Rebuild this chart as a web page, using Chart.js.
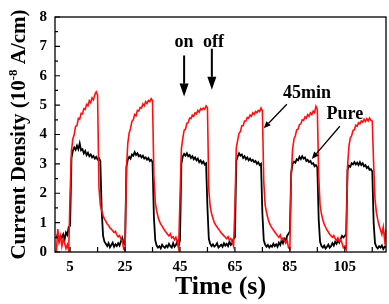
<!DOCTYPE html>
<html>
<head>
<meta charset="utf-8">
<script src="https://cdn.jsdelivr.net/npm/chart.js@4/dist/chart.umd.min.js"></script>
<style>
  html, body { margin: 0; padding: 0; background: #fff; }
  #wrap { width: 389px; height: 304px; }
</style>
</head>
<body>
<div id="wrap"><canvas id="photo-chart"></canvas></div>
<script>
// sampled every 0.5 s, starting at t = 0
var startTime = 0;
var sampleStep = 0.5;

// Pure (black)
var pureValues = [
  0.45,0.62,0.38,0.55,0.48,0.60,0.42,0.66,0.58,0.85,
  0.90,3.20,3.45,3.56,3.48,3.62,3.50,3.70,3.46,3.50,
  3.36,3.44,3.30,3.38,3.26,3.32,3.22,3.27,3.18,3.24,
  3.15,3.20,3.10,1.40,0.55,0.35,0.28,0.20,0.30,0.16,
  0.24,0.32,0.18,0.26,0.20,0.30,0.22,0.36,0.48,0.30,
  0.25,2.90,3.15,3.24,3.18,3.32,3.28,3.40,3.30,3.36,
  3.26,3.30,3.22,3.28,3.18,3.22,3.14,3.20,3.10,3.14,
  3.06,1.20,0.40,0.22,0.15,0.20,0.12,0.25,0.18,0.14,
  0.22,0.16,0.28,0.20,0.15,0.30,0.18,0.24,0.35,0.20,
  0.40,3.00,3.25,3.34,3.28,3.36,3.26,3.30,3.20,3.26,
  3.16,3.22,3.12,3.18,3.06,3.12,3.02,3.08,2.98,3.02,
  1.50,0.45,0.28,0.20,0.26,0.18,0.22,0.30,0.15,0.20,
  0.25,0.18,0.30,0.22,0.28,0.20,0.35,0.24,0.30,0.45,
  0.50,3.10,3.25,3.36,3.28,3.32,3.20,3.26,3.16,3.22,
  3.12,3.18,3.10,3.14,3.06,3.10,3.00,3.06,2.96,3.00,
  1.30,0.40,0.25,0.18,0.24,0.15,0.22,0.18,0.28,0.20,
  0.26,0.18,0.32,0.24,0.40,0.30,0.45,0.38,0.55,0.62,
  0.70,2.70,3.00,3.08,3.04,3.16,3.12,3.24,3.16,3.26,
  3.18,3.22,3.10,3.14,3.06,3.10,3.00,3.02,2.92,2.96,
  2.88,1.10,0.35,0.20,0.15,0.22,0.12,0.18,0.25,0.15,
  0.20,0.30,0.22,0.35,0.28,0.40,0.32,0.45,0.55,0.50,
  0.55,0.60,2.80,2.94,2.90,3.02,2.98,3.06,2.98,3.04,
  2.96,3.06,2.96,3.02,2.92,2.96,2.86,2.90,2.80,2.82,
  2.74,1.00,0.30,0.18,0.12,0.20,0.15,0.22,0.10,0.18,
  0.15
];

// 45min (red)
var min45Values = [
  0.00,0.78,0.35,0.55,0.20,0.45,0.30,0.12,0.25,0.05,
  2.00,3.45,3.85,4.00,4.28,4.30,4.55,4.52,4.72,4.70,
  4.88,4.85,5.02,4.98,5.15,5.08,5.25,5.18,5.36,5.45,
  5.35,2.20,1.60,1.40,1.25,1.12,1.05,0.95,0.90,0.82,
  0.78,0.72,0.66,0.70,0.58,0.52,0.56,0.45,0.38,0.10,
  0.05,2.80,3.70,4.05,4.20,4.45,4.50,4.68,4.64,4.82,
  4.80,4.92,4.90,5.04,4.98,5.12,5.06,5.16,5.12,5.22,
  5.15,2.60,1.70,1.40,1.20,1.05,0.95,0.88,0.80,0.72,
  0.66,0.60,0.55,0.62,0.48,0.52,0.42,0.50,0.35,0.12,
  1.80,3.50,3.85,4.14,4.18,4.38,4.40,4.56,4.54,4.66,
  4.62,4.74,4.70,4.82,4.76,4.88,4.84,4.90,4.86,4.97,
  4.90,2.10,1.55,1.30,1.15,1.00,0.92,0.85,0.78,0.72,
  0.65,0.60,0.55,0.50,0.45,0.52,0.40,0.46,0.35,0.20,
  1.50,3.55,3.80,4.04,4.10,4.30,4.30,4.46,4.46,4.58,
  4.55,4.66,4.62,4.74,4.68,4.78,4.74,4.82,4.78,4.90,
  4.80,2.40,1.60,1.35,1.15,1.00,0.90,0.82,0.75,0.68,
  0.62,0.55,0.50,0.58,0.42,0.48,0.38,0.30,0.40,0.15,
  0.10,2.60,3.50,3.84,3.96,4.16,4.18,4.34,4.36,4.50,
  4.48,4.60,4.56,4.68,4.62,4.74,4.68,4.80,4.74,4.96,
  4.85,2.60,1.60,1.30,1.10,0.95,0.85,0.75,0.68,0.60,
  0.55,0.50,0.56,0.45,0.40,0.48,0.36,0.42,0.30,0.15,
  0.20,0.10,2.90,3.60,3.88,3.96,4.14,4.16,4.32,4.28,
  4.40,4.36,4.46,4.42,4.52,4.44,4.54,4.46,4.56,4.48,
  4.46,3.00,1.80,1.35,1.10,0.90,0.75,0.60,0.85,0.40,
  0.75
];

var xLabelTicks = [5, 25, 45, 65, 85, 105];
var xMinorTicks = [15, 35, 55, 75, 95, 115];
var yTickValues = [0, 1, 2, 3, 4, 5, 6, 7, 8];

function toPoints(vals) {
  return vals.map(function(v, i) { return { x: startTime + i * sampleStep, y: v }; });
}

var serif = "'Liberation Serif', 'Times New Roman', serif";

// frame, inward ticks, axis titles and the arrows
var notesPlugin = {
  id: 'notes',
  afterDraw: function(chart) {
    var ctx = chart.ctx, a = chart.chartArea;
    var xs = chart.scales.x, ys = chart.scales.y;
    ctx.save();
    ctx.strokeStyle = '#000';
    ctx.lineWidth = 1.3;
    ctx.strokeRect(a.left, a.top, a.right - a.left, a.bottom - a.top);

    ctx.lineWidth = 1.2;
    ctx.beginPath();
    yTickValues.forEach(function(v) {
      var py = ys.getPixelForValue(v);
      ctx.moveTo(a.left, py); ctx.lineTo(a.left + 5, py);
      if (v < 8) {
        var pm = ys.getPixelForValue(v + 0.5);
        ctx.moveTo(a.left, pm); ctx.lineTo(a.left + 3, pm);
      }
    });
    xLabelTicks.concat(xMinorTicks).forEach(function(v) {
      var px = xs.getPixelForValue(v);
      ctx.moveTo(px, a.bottom); ctx.lineTo(px, a.bottom - 5);
    });
    ctx.stroke();

    ctx.fillStyle = '#000';
    // x title
    ctx.font = 'bold 26px ' + serif;
    ctx.textAlign = 'center';
    ctx.textBaseline = 'middle';
    ctx.fillText('Time (s)', (a.left + a.right) / 2, 287);

    // y title with superscript
    ctx.save();
    ctx.translate(25, (a.top + a.bottom) / 2);
    ctx.rotate(-Math.PI / 2);
    ctx.textBaseline = 'alphabetic';
    ctx.textAlign = 'left';
    var big = 'bold 21px ' + serif, small = 'bold 13px ' + serif;
    var p1 = 'Current Density (10', p2 = '-8', p3 = ' A/cm)';
    ctx.font = big; var w1 = ctx.measureText(p1).width, w3 = ctx.measureText(p3).width;
    ctx.font = small; var w2 = ctx.measureText(p2).width;
    var x0 = -(w1 + w2 + w3) / 2;
    ctx.font = big; ctx.fillText(p1, x0, 0);
    ctx.font = small; ctx.fillText(p2, x0 + w1, -8);
    ctx.font = big; ctx.fillText(p3, x0 + w1 + w2, 0);
    ctx.restore();

    // notes
    function P(t, v) { return [xs.getPixelForValue(t), ys.getPixelForValue(v)]; }
    function arrow(from, to, width, headLen, headW) {
      var dx = to[0] - from[0], dy = to[1] - from[1];
      var len = Math.sqrt(dx * dx + dy * dy), ux = dx / len, uy = dy / len;
      var bx = to[0] - ux * headLen, by = to[1] - uy * headLen;
      ctx.lineWidth = width;
      ctx.beginPath(); ctx.moveTo(from[0], from[1]); ctx.lineTo(bx, by); ctx.stroke();
      ctx.beginPath();
      ctx.moveTo(to[0], to[1]);
      ctx.lineTo(bx - uy * headW / 2, by + ux * headW / 2);
      ctx.lineTo(bx + uy * headW / 2, by - ux * headW / 2);
      ctx.closePath(); ctx.fill();
    }
    ctx.font = 'bold 18px ' + serif;
    ctx.textAlign = 'center';
    ctx.textBaseline = 'middle';
    var on = P(46.5, 7.15), off = P(57.2, 7.15);
    ctx.fillText('on', on[0], on[1]);
    ctx.fillText('off', off[0], off[1]);
    arrow(P(46.5, 6.69), P(46.5, 5.29), 2, 13, 9);
    arrow(P(56.6, 6.92), P(56.6, 5.52), 2, 13, 9);

    var t45 = P(91.2, 5.39), tp = P(105, 4.70);
    ctx.fillText('45min', t45[0], t45[1]);
    ctx.fillText('Pure', tp[0], tp[1]);
    arrow(P(83.9, 5.03), P(75.5, 4.21), 1.3, 7, 6);
    arrow(P(103.2, 4.28), P(93, 3.17), 1.3, 7, 6);
    ctx.restore();
  }
};

var ctx = document.getElementById('photo-chart').getContext('2d');
var currentChart = new Chart(ctx, {
  type: 'line',
  data: {
    datasets: [
      { label: '45min', data: toPoints(min45Values), borderColor: '#ff1010', borderWidth: 1.6, pointRadius: 0, tension: 0 },
      { label: 'Pure', data: toPoints(pureValues), borderColor: '#000000', borderWidth: 1.8, pointRadius: 0, tension: 0 }
    ]
  },
  options: {
    responsive: true,
    maintainAspectRatio: false,
    animation: false,
    layout: { padding: { top: 7, right: 3, left: 0, bottom: 0 } },
    plugins: { legend: { display: false }, tooltip: { enabled: false } },
    scales: {
      x: {
        type: 'linear',
        min: -0.5,
        max: 120,
        afterBuildTicks: function(scale) {
          scale.ticks = xLabelTicks.map(function(v) { return { value: v }; });
        },
        afterFit: function(scale) { scale.height = 52; },
        grid: { display: false, drawTicks: false },
        border: { display: false },
        ticks: { color: '#000', padding: 6, maxRotation: 0, autoSkip: false, font: { family: serif, size: 15, weight: 'bold' } }
      },
      y: {
        min: 0,
        max: 8,
        afterBuildTicks: function(scale) {
          scale.ticks = yTickValues.map(function(v) { return { value: v }; });
        },
        afterFit: function(scale) { scale.width = 55; },
        grid: { display: false, drawTicks: false },
        border: { display: false },
        ticks: { color: '#000', padding: 8, font: { family: serif, size: 15, weight: 'bold' } }
      }
    }
  },
  plugins: [notesPlugin]
});
</script>
</body>
</html>
